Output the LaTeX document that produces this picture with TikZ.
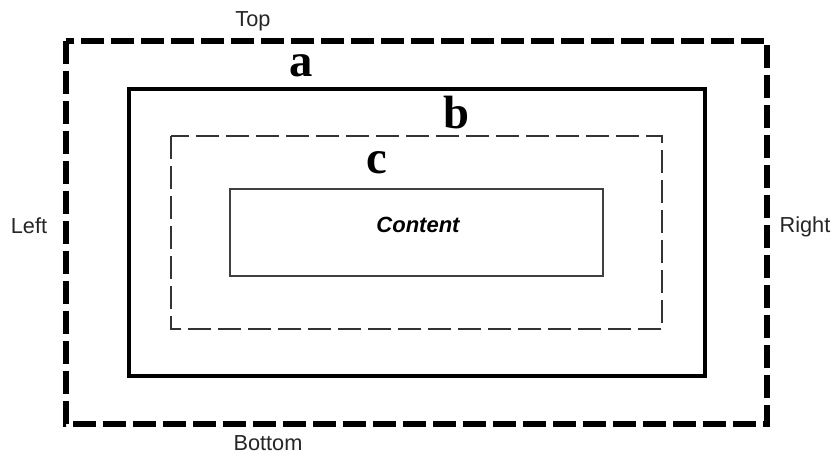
\documentclass[tikz,border=0pt]{standalone}
\usepackage{fontspec}
\setmainfont{Liberation Sans}
\newfontfamily\letterfont{Liberation Serif}
\begin{document}
\begin{tikzpicture}[x=0.75pt,y=-0.75pt,
  outerbox/.style={draw=black,line width=4.2pt,dash pattern=on 17.25pt off 5.25pt},
  borderbox/.style={draw=black,line width=3.5pt},
  padbox/.style={draw=black!80,line width=1pt,dash pattern=on 17.25pt off 5.25pt},
  contentbox/.style={draw=black!75,line width=0.8pt},
  side/.style={font=\fontsize{16.3}{19}\selectfont,text=black!85,anchor=base,inner sep=0pt},
  letter/.style={font=\fontsize{35}{40}\selectfont\letterfont\bfseries,anchor=base,inner sep=0pt},
  contentlabel/.style={font=\fontsize{16.5}{20}\selectfont\bfseries\itshape,anchor=base,inner sep=0pt}]
\useasboundingbox (0,0) rectangle (833,455);
\fill[white] (0,0) rectangle (833,455);
\draw[outerbox] (66,41) rectangle (767,424);
\draw[borderbox] (129,89) rectangle (705,376);
\draw[padbox] (171,136) rectangle (662,329);
\draw[contentbox] (230,189) rectangle (603,276);
\node[side] (top) at (253,26) {Top};
\node[side] (bottom) at (268,450) {Bottom};
\node[side] (left) at (29,233) {Left};
\node[side] (right) at (805,232) {Right};
\node[letter] (a) at (301,76.5) {a};
\node[letter] (b) at (456,128) {b};
\node[letter] (c) at (377,173) {c};
\node[contentlabel] (content) at (418,232) {Content};
\end{tikzpicture}
\end{document}
